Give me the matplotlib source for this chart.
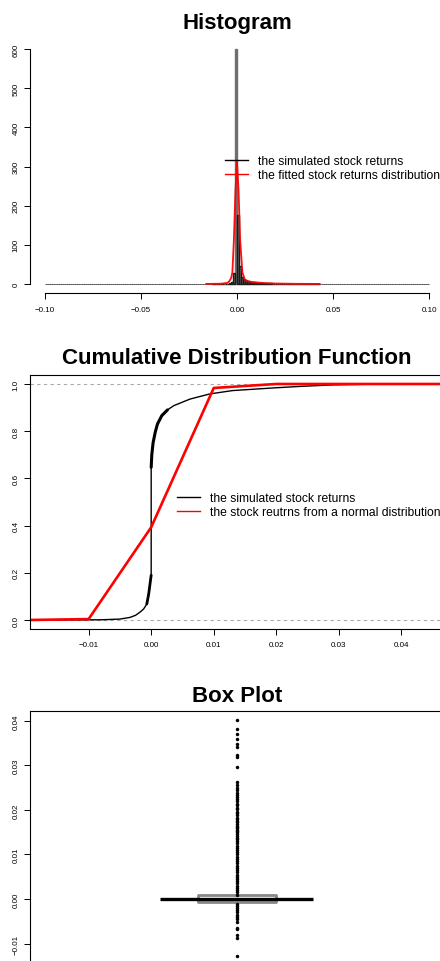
import numpy as np
import matplotlib
matplotlib.use('Agg')
import matplotlib.pyplot as plt
from matplotlib.lines import Line2D

plt.rcParams['font.family'] = ['Liberation Sans', 'DejaVu Sans']

###Histogram data (density per bin of width 0.001)###
bin_width = 0.001
hist_pos = [175, 46, 18, 13, 10, 8, 7, 6, 5, 4, 3.5, 3, 2.6, 2.3, 2, 1.8, 1.6, 1.4, 1.2,
            1.1, 1.0, 0.9, 0.8, 0.8, 0.7, 0.6, 0.6, 0.5, 0.5, 0.4, 0.4, 0.4, 0.3, 0.3,
            0.3, 0.3, 0.2, 0.2, 0.2, 0.2, 0.2, 0.2, 0.2]
hist_neg = [600, 28, 5, 1.5, 0.8, 0.5, 0.3, 0.2, 0.2, 0.1, 0.1, 0.1, 0.1]
hist_ticks = [-0.10, -0.05, 0.00, 0.05, 0.10]
hist_yticks = [0, 100, 200, 300, 400, 500, 600]

dens_x = [-0.016, -0.008, -0.005, -0.004, -0.003, -0.0024, -0.0016, -0.0008, 0.0, 0.0008,
          0.0016, 0.0028, 0.004, 0.005, 0.007, 0.01, 0.015, 0.02, 0.03, 0.043]
dens_y = [0.1, 0.8, 3, 7, 16, 30, 115, 240, 311, 240, 115, 30, 12, 8, 5.5, 4, 2.2, 1.2, 0.5, 0.2]

###CDF data###
ecdf_x = [-0.0194, -0.008, -0.005, -0.0034, -0.0025, -0.0018, -0.0012, -0.0007, -0.0004, -0.0002,
          0.0, 0.0, 0.0001, 0.0003, 0.00064, 0.001, 0.0017, 0.0026, 0.0036, 0.0062, 0.0094,
          0.013, 0.02, 0.024, 0.029, 0.035, 0.047]
ecdf_y = [0.0, 0.001, 0.004, 0.011, 0.02, 0.033, 0.047, 0.068, 0.11, 0.15,
          0.19, 0.647, 0.70, 0.75, 0.795, 0.83, 0.866, 0.89, 0.908, 0.936, 0.958,
          0.972, 0.984, 0.99, 0.996, 0.999, 1.0]
norm_x = [-0.03, -0.02, -0.01, 0.0, 0.01, 0.02, 0.03, 0.04, 0.05]
norm_y = [0.0, 0.0, 0.004, 0.393, 0.983, 1.0, 1.0, 1.0, 1.0]
cdf_xticks = [-0.01, 0.00, 0.01, 0.02, 0.03, 0.04]
cdf_yticks = [0.0, 0.2, 0.4, 0.6, 0.8, 1.0]

###Box plot data###
box_q1, box_med, box_q3 = -0.0007, 0.0, 0.0008
outliers = [0.0401, 0.0381, 0.0370, 0.0360, 0.0348, 0.0342, 0.0323, 0.0318, 0.0297,
            0.0262, 0.0256, 0.0249, 0.0244, 0.0238, 0.0233, 0.0229, 0.0224, 0.0219, 0.0214,
            0.0210, 0.0205, 0.0201, 0.0196, 0.0192, 0.0188, 0.0183, 0.0179, 0.0176, 0.0172,
            0.0168, 0.0165, 0.0162, 0.0159, 0.0156, 0.0153, 0.0150, 0.0146, 0.0142, 0.0138,
            0.0134, 0.0130, 0.0125, 0.0120, 0.0115, 0.0110, 0.0105, 0.0100, 0.0095, 0.0090,
            0.0085, 0.0080, 0.0075, 0.0070, 0.0065, 0.0060, 0.0055, 0.0050, 0.0045, 0.0040,
            0.0035, 0.0030, 0.0025, 0.0020, 0.0015, 0.0010,
            -0.0010, -0.0015, -0.0020, -0.0025, -0.0030, -0.0035, -0.0040, -0.0045,
            -0.0052, -0.0064, -0.0067, -0.0081, -0.0087, -0.0127]
box_yticks = [-0.01, 0.00, 0.01, 0.02, 0.03, 0.04]

W, H = 440, 962
fig = plt.figure(figsize=(W / 100, H / 100), dpi=100)

def place(top, bottom, left=29.6, right=444.4):
    return fig.add_axes([left / W, (H - bottom) / H, (right - left) / W, (bottom - top) / H])

def style_ticks(ax):
    ax.tick_params(axis='both', length=4, width=0.7, labelsize=5.8)
    ax.tick_params(axis='x', pad=5)
    ax.tick_params(axis='y', pad=3)
    for lab in ax.get_yticklabels():
        lab.set_rotation(90)
        lab.set_va('center')

def fmt(vals, nd):
    return [('%.' + str(nd) + 'f') % v if v >= 0 else '\u2212' + ('%.' + str(nd) + 'f') % (-v) for v in vals]

title_kw = dict(ha='center', va='center', fontsize=16, fontweight='bold')
legend_kw = dict(loc='upper left', bbox_transform=fig.transFigure, frameon=False, fontsize=8.7,
                 handlelength=1.9, handletextpad=0.8, labelspacing=0.17, borderpad=0, borderaxespad=0)
xc = 237 / W

###Panel 1: histogram###
ax1 = place(40.6, 294.4)
edges_neg = -bin_width * (np.arange(len(hist_neg)) + 1)
edges_pos = bin_width * np.arange(len(hist_pos))
n_neg_zero = int(round(0.1 / bin_width)) - len(hist_neg)
n_pos_zero = int(round(0.1 / bin_width)) - len(hist_pos)
zero_left = np.concatenate([-0.1 + bin_width * np.arange(n_neg_zero),
                            edges_pos[-1] + bin_width * (np.arange(n_pos_zero) + 1)])
ax1.bar(zero_left, np.zeros(len(zero_left)), width=bin_width, align='edge',
        facecolor='#777777', edgecolor='#333333', lw=0.6)
heights = hist_neg + hist_pos
edge_cols = ['#707070' if h > 500 else '#1a1a1a' for h in heights]
ax1.bar(np.concatenate([edges_neg, edges_pos]), heights, width=bin_width,
        align='edge', facecolor='#6a6a6a', edgecolor=edge_cols, lw=1.0)
ax1.plot(dens_x, dens_y, color='red', lw=1.3, alpha=0.95)
ax1.set_xlim(-0.108, 0.108)
ax1.set_ylim(-24, 624)
for s in ['top', 'right']:
    ax1.spines[s].set_visible(False)
ax1.spines['left'].set_bounds(0, 600)
ax1.spines['bottom'].set_bounds(-0.1, 0.1)
for s in ['left', 'bottom']:
    ax1.spines[s].set_linewidth(0.8)
ax1.set_xticks(hist_ticks, fmt(hist_ticks, 2))
ax1.set_yticks(hist_yticks, [str(v) for v in hist_yticks])
style_ticks(ax1)
h1 = [Line2D([], [], color='black', lw=1), Line2D([], [], color='red', lw=1)]
ax1.legend(h1, ['the simulated stock returns', 'the fitted stock returns distribution'],
           bbox_to_anchor=(225 / W, 1 - 156 / H), **legend_kw)
fig.text(xc, 1 - 23 / H, 'Histogram', **title_kw)

###Panel 2: CDF###
ax2 = place(376, 630)
ax2.axhline(0, color='#aaaaaa', lw=0.8, ls=(0, (3, 3)))
ax2.axhline(1, color='#aaaaaa', lw=0.8, ls=(0, (3, 3)))
ax2.plot(ecdf_x, ecdf_y, color='black', lw=1.0, solid_joinstyle='round')
# overplotted runs of points look thicker in the original
ax2.plot(ecdf_x[7:11], ecdf_y[7:11], color='black', lw=2.0, solid_capstyle='round')
ax2.plot(ecdf_x[11:18], ecdf_y[11:18], color='black', lw=2.2, solid_capstyle='round')
ax2.plot(norm_x, norm_y, color='red', lw=1.9)
ax2.set_xlim(-0.01943, 0.04686)
ax2.set_ylim(-0.038, 1.038)
for s in ax2.spines.values():
    s.set_linewidth(0.8)
ax2.set_xticks(cdf_xticks, fmt(cdf_xticks, 2))
ax2.set_yticks(cdf_yticks, fmt(cdf_yticks, 1))
style_ticks(ax2)
h2 = [Line2D([], [], color='black', lw=1), Line2D([], [], color='red', lw=1)]
ax2.legend(h2, ['the simulated stock returns', 'the stock reutrns from a normal distribution'],
           bbox_to_anchor=(177 / W, 1 - 493 / H), **legend_kw)
fig.text(xc, 1 - 358 / H, 'Cumulative Distribution Function', **title_kw)

###Panel 3: box plot###
ax3 = place(712, 966)
ax3.set_xlim(0.5, 1.5)
ax3.set_ylim(-0.0148, 0.0422)
ax3.fill_between([0.906, 1.094], box_q1, box_q3, facecolor='white', edgecolor='#888888', lw=2)
ax3.plot([0.815, 1.183], [box_med, box_med], color='black', lw=2.4, solid_capstyle='butt')
ax3.plot(np.ones(len(outliers)), outliers, 'o', color='black', ms=2.5, mew=0)
for s in ax3.spines.values():
    s.set_linewidth(0.8)
ax3.set_xticks([])
ax3.set_yticks(box_yticks, fmt(box_yticks, 2))
style_ticks(ax3)
fig.text(xc, 1 - 696 / H, 'Box Plot', **title_kw)

fig.savefig('out.png', dpi=100)
